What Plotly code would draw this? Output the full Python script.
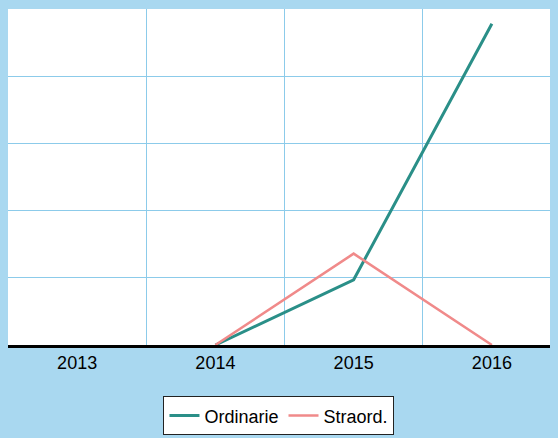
import plotly.graph_objects as go

years = ["2013", "2014", "2015", "2016"]
ordinarie = [None, 0, 0.97, 4.78]
straord = [None, 0, 1.36, 0]

BG = "#a9d8f0"

fig = go.Figure()
fig.add_trace(go.Scatter(x=years, y=ordinarie, mode="lines", name="Ordinarie",
                         line=dict(color="#2a8f88", width=3)))
fig.add_trace(go.Scatter(x=years, y=straord, mode="lines", name="Straord.",
                         line=dict(color="#f08a8a", width=2.5)))

fig.update_layout(
    width=558, height=438,
    margin=dict(l=0, r=5, t=1, b=101),
    paper_bgcolor=BG,
    plot_bgcolor="white",
    font=dict(family="Liberation Sans, Arial", size=18, color="black"),
    showlegend=True,
    legend=dict(orientation="h", x=0.49, xanchor="center", y=-0.153, yanchor="top",
                bgcolor="white", bordercolor="#222222", borderwidth=1,
                font=dict(size=18)),
)
fig.update_xaxes(type="category", range=[-0.5, 3.5], tickson="boundaries",
                 showgrid=True, gridcolor="#8ccbea", gridwidth=1,
                 showline=True, linecolor="black", linewidth=2.5,
                 ticks="", tickfont=dict(size=18))
fig.update_yaxes(range=[0, 5], dtick=1, showticklabels=False,
                 showgrid=True, gridcolor="#8ccbea", gridwidth=1,
                 zeroline=False)

fig.write_html(
    "out.html",
    post_script=(
        "document.body.style.background='" + BG + "';"
        "document.documentElement.style.background='" + BG + "';"
        "document.body.style.overflow='hidden';"
    ),
)
